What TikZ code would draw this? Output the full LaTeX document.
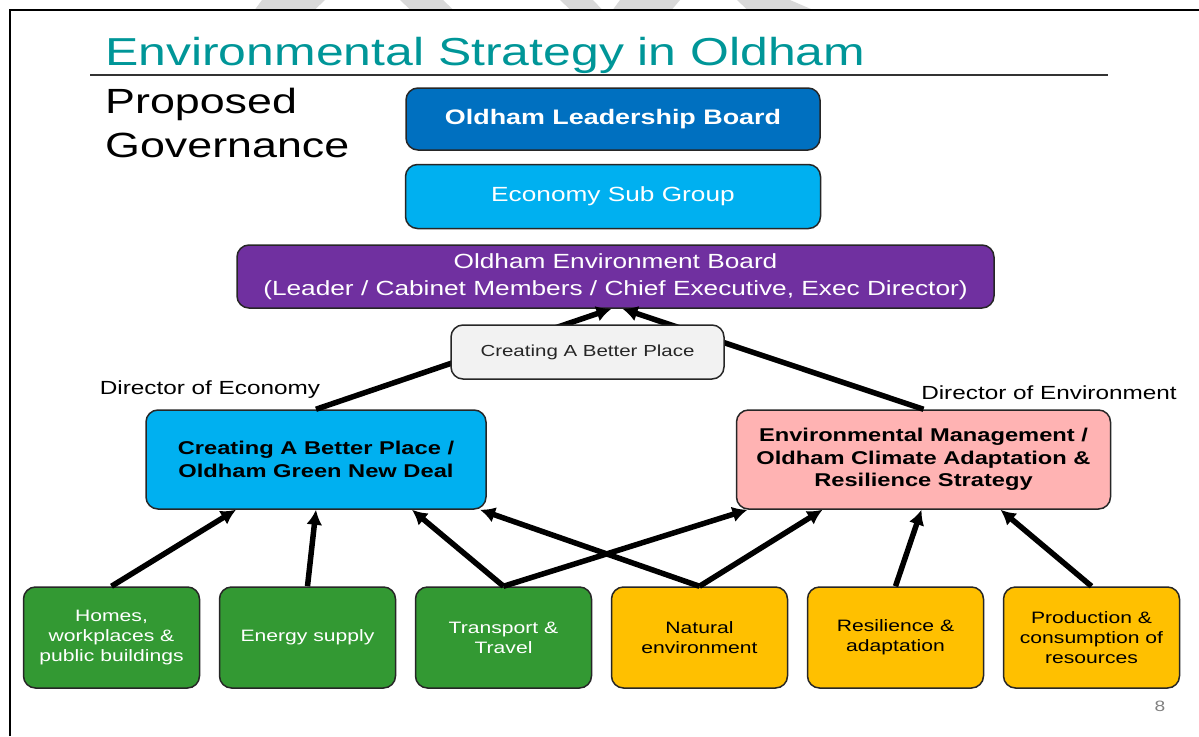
\documentclass[tikz,border=0pt]{standalone}
\usepackage{fontspec}
\setmainfont{Liberation Sans}[FakeStretch=1.28]
\usetikzlibrary{positioning,arrows.meta}
\definecolor{titleteal}{RGB}{0,150,152}
\definecolor{leaderblue}{RGB}{0,112,192}
\definecolor{skyblue}{RGB}{0,176,240}
\definecolor{boardpurple}{RGB}{112,48,160}
\definecolor{lightgreybox}{RGB}{242,242,242}
\definecolor{envpink}{RGB}{255,179,179}
\definecolor{themegreen}{RGB}{51,153,51}
\definecolor{themeamber}{RGB}{255,192,0}
\definecolor{watermark}{RGB}{217,217,217}

\begin{document}
\begin{tikzpicture}[x=1pt,y=-1pt]
\tikzstyle{board}=[rectangle, rounded corners=12pt, draw=black!85, line width=1.5pt, inner sep=0pt, align=center, text=white]
\tikzstyle{theme}=[board, minimum width=176pt, minimum height=101pt, font=\fontsize{16.5}{20}\selectfont]
\tikzstyle{connect}=[-{Latex[length=15pt,width=16pt]}, line width=5.5pt]
\tikzstyle{director}=[font=\fontsize{19}{22}\selectfont]
\useasboundingbox (0,0) rectangle (1199,736);
% slide frame and watermark
\fill[watermark] (262,0) -- (325,0) -- (315,9.5) -- (255,9.5) -- cycle;
\fill[watermark] (400,0) -- (443,0) -- (453,9.5) -- (410,9.5) -- cycle;
\fill[watermark] (560,0) -- (593,0) -- (602,9.5) -- (570,9.5) -- cycle;
\fill[watermark] (620,0) -- (680,0) -- (672,9.5) -- (613,9.5) -- cycle;
\fill[watermark] (737,0) -- (790,0) -- (812,9.5) -- (747,9.5) -- cycle;
\draw[line width=1.5pt] (10,736) -- (10,10) -- (1199,10);
% title
\node[anchor=base west, inner sep=0pt, text=titleteal, font=\fontsize{39}{44}\selectfont] (title) at (105,65) {Environmental Strategy in Oldham};
\draw[line width=2pt, black!80] (90,75) -- (1108,75);
\node[anchor=base west, inner sep=0pt, font=\fontsize{35}{40}\selectfont] (proposed) at (105,113) {Proposed};
\node[anchor=base west, inner sep=0pt, font=\fontsize{35}{40}\selectfont] (governance) at (105,157) {Governance};
% boards
\node[board, fill=leaderblue, minimum width=414pt, minimum height=62pt, font=\bfseries\fontsize{21}{24}\selectfont] (olb) at (613,119) {Oldham Leadership Board};
\node[board, fill=skyblue, minimum width=415pt, minimum height=64pt, font=\fontsize{20.5}{24}\selectfont] (esg) [below=13pt of olb] {Economy Sub Group};
\node[board, fill=boardpurple, minimum width=757pt, minimum height=63pt, font=\fontsize{20.5}{27}\selectfont] (eb) at (615.5,276.5) {Oldham Environment Board\\(Leader / Cabinet Members / Chief Executive, Exec Director)};
\node[board, fill=skyblue, text=black, minimum width=340pt, minimum height=99pt, font=\bfseries\fontsize{18.5}{23}\selectfont] (cbp) at (316,459.5) {Creating A Better Place /\\Oldham Green New Deal};
\node[board, fill=envpink, text=black, minimum width=374pt, minimum height=99pt, font=\bfseries\fontsize{18.5}{22.5}\selectfont] (emr) at (923.5,459.5) {Environmental Management /\\Oldham Climate Adaptation \&\\Resilience Strategy};
\node[director] (direcon) at (210,390) {Director of Economy};
\node[director] (direnv) at (1049,393) {Director of Environment};
% themes
\node[theme, fill=themegreen] (homes) at (111.5,637.5) {Homes,\\workplaces \&\\public buildings};
\node[theme, fill=themegreen] (energy) [right=18.5pt of homes] {Energy supply};
\node[theme, fill=themegreen] (transport) [right=18.5pt of energy] {Transport \&\\Travel};
\node[theme, fill=themeamber, text=black] (natural) [right=18.5pt of transport] {Natural\\environment};
\node[theme, fill=themeamber, text=black] (resilience) [right=18.5pt of natural] {Resilience \&\\adaptation};
\node[theme, fill=themeamber, text=black] (production) [right=18.5pt of resilience] {Production \&\\consumption of\\resources};
\node[text=black!50, font=\fontsize{15}{18}\selectfont] (pageno) at (1160,706) {8};
% connectors
\path[connect] (cbp.north) edge ([xshift=-4pt]eb.south)
               (emr.north) edge ([xshift=7pt]eb.south)
               (homes.north) edge ([xshift=-80pt]cbp.south)
               (energy.north) edge (cbp.south)
               (transport.north) edge ([xshift=96pt]cbp.south)
               (transport.north) edge ([xshift=-176pt]emr.south)
               (natural.north) edge ([xshift=164pt]cbp.south)
               (natural.north) edge ([xshift=-101pt]emr.south)
               (resilience.north) edge ([xshift=-2pt]emr.south)
               (production.north) edge ([xshift=77pt]emr.south)
               ;
\node[board, fill=lightgreybox, text=black!85, minimum width=273pt, minimum height=54pt, font=\fontsize{16}{19}\selectfont] (better) at (587.5,352) {Creating A Better Place};
\end{tikzpicture}
\end{document}
